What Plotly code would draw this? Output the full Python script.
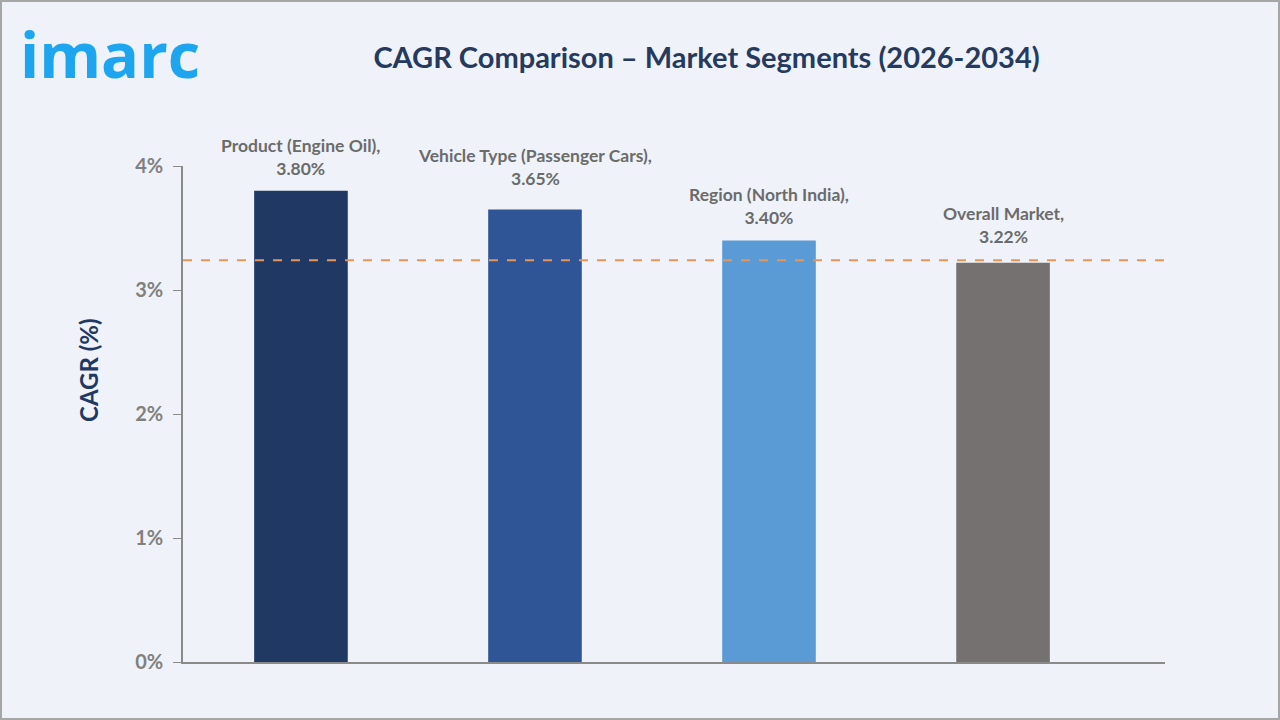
import plotly.graph_objects as go

segments = ["Product (Engine Oil)", "Vehicle Type (Passenger Cars)",
            "Region (North India)", "Overall Market"]
cagr = [3.80, 3.65, 3.40, 3.22]
bar_colors = ["#1f3864", "#2f5597", "#5b9bd5", "#767171"]
reference_line = 3.24
y_ticks = [0, 1, 2, 3, 4]
y_tick_text = ["0%", "1%", "2%", "3%", "4%"]

W, H = 1280, 720
ML, MR, MT, MB = 183, 115, 166, 58
pw, ph = W - ML - MR, H - MT - MB
FONT = "Lato"

fig = go.Figure()
fig.add_trace(go.Bar(
    x=list(range(len(segments))),
    y=cagr,
    width=0.4,
    marker=dict(color=bar_colors, line=dict(width=0)),
    hoverinfo="skip",
))

# value labels above the bars
label_gap = [10, 18, 10, 14]
for i, (s, v) in enumerate(zip(segments, cagr)):
    fig.add_annotation(x=i, y=v, text=f"<b>{s},<br>{v:.2f}%</b>",
                       xanchor="center", yanchor="bottom", showarrow=False,
                       yshift=label_gap[i],
                       font=dict(family=FONT, size=17.5, color="#6b6b6b"))

fig.add_shape(type="line", xref="paper", yref="y", x0=0, x1=1,
              y0=reference_line, y1=reference_line,
              line=dict(color="#e8955a", width=2, dash="dash"))

# outer border of the picture
fig.add_shape(type="rect", xref="paper", yref="paper",
              x0=(1 - ML) / pw, x1=(W - ML - 1) / pw,
              y0=-(MB - 1) / ph, y1=(H - MB - 1) / ph,
              line=dict(color="#a6a6a6", width=2), layer="below")

fig.update_layout(
    width=W, height=H,
    margin=dict(l=ML, r=MR, t=MT, b=MB),
    paper_bgcolor="#eff3f9",
    plot_bgcolor="#eff3f9",
    showlegend=False,
    title=dict(text="<b>CAGR Comparison – Market Segments (2026-2034)</b>",
               x=0.552, xanchor="center", y=0.919, yanchor="middle",
               font=dict(family=FONT, size=29, color="#253a5e")),
    xaxis=dict(range=[-0.504, 3.692], showticklabels=False, ticks="",
               showgrid=False, zeroline=False, showline=True,
               linecolor="#8a8a8a", linewidth=1.5, fixedrange=True),
    yaxis=dict(range=[0, 4], tickvals=y_ticks, ticktext=y_tick_text,
               ticks="outside", ticklen=8, tickcolor="#8a8a8a",
               ticklabelstandoff=6,
               tickfont=dict(family=FONT, size=20, color="#808080", weight="bold"),
               showgrid=False, zeroline=False, showline=True,
               linecolor="#8a8a8a", linewidth=1.5),
)

# axis title sits above the middle of the axis
fig.add_annotation(text="<b>CAGR (%)</b>", xref="paper", yref="paper",
                   x=(88 - ML) / pw, y=(H - MB - 370) / ph, textangle=-90,
                   xanchor="center", yanchor="middle", showarrow=False,
                   font=dict(family=FONT, size=24, color="#1f3864"))

fig.add_annotation(text="imarc", xref="paper", yref="paper",
                   x=(18 - ML) / pw, y=(H - MB - 53) / ph,
                   xanchor="left", yanchor="middle", showarrow=False,
                   font=dict(family="Open Sans", size=63, color="#1ea5f0",
                             weight="bold"))

fig.write_html("out.html", config={"displayModeBar": False},
               post_script="document.body.style.margin='0';")
